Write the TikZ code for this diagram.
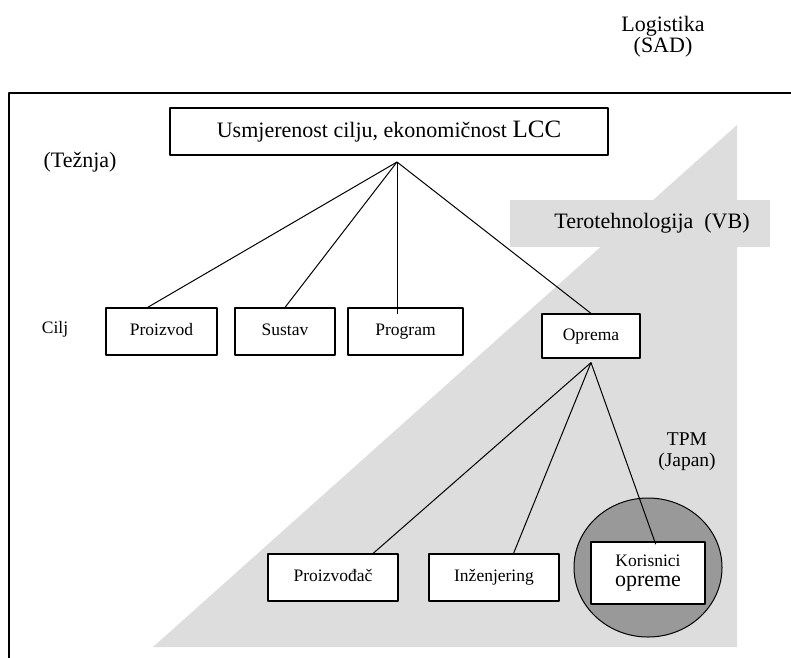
\documentclass[tikz,border=0pt]{standalone}
\usepackage{fontspec}
\setmainfont{Liberation Serif}
\definecolor{svijetlo}{RGB}{221,221,221}
\definecolor{tamno}{RGB}{153,153,153}
\tikzset{
  kutija/.style={draw,fill=white,line width=1.2pt,inner sep=0pt,text height=12pt,text depth=4pt,
    font=\fontsize{17.5}{19}\selectfont},
  veza/.style={line width=1pt},
  naslov/.style={font=\fontsize{22}{21}\selectfont,align=center},
}
\begin{document}
\begin{tikzpicture}[x=1pt,y=-1pt,line join=round]
\useasboundingbox (0,0) rectangle (791,657);
% siva podloga
\fill[svijetlo] (153,647)--(737,125)--(737,647)--cycle;
\fill[svijetlo] (510,200) rectangle (770,247);
% okvir
\draw[line width=1.3pt] (9,662)--(9,93)--(796,93);
% tekstovi
\node[naslov] (logistika) at (663,37) {Logistika\\(SAD)};
\node[naslov] (teznja) at (80,162) {(Težnja)};
\node[naslov] (tero) at (652,223) {Terotehnologija\ \ (VB)};
\node[font=\fontsize{17.5}{19}\selectfont] (cilj) at (55,329) {Cilj};
\node[font=\fontsize{19.5}{21}\selectfont,align=center] (tpm) at (687,452) {TPM\\(Japan)};
\draw[fill=tamno,line width=1pt] (648,567.5) ellipse [x radius=74pt,y radius=69.5pt];
% kutije
\node[draw,fill=white,line width=1.2pt,inner sep=0pt,minimum width=438pt,minimum height=47pt,
  font=\fontsize{22}{22}\selectfont] (usmj) at (389,131.5)
  {Usmjerenost cilju, ekonomičnost {\fontsize{25}{25}\selectfont LCC}};
\node[kutija,minimum width=111pt,minimum height=47pt] (proizvod) at (161.5,331.5) {Proizvod};
\node[kutija,minimum width=100pt,minimum height=47pt] (sustav) at (285,331.5) {Sustav};
\node[kutija,minimum width=115pt,minimum height=47pt] (program) at (405.5,331.5) {Program};
\node[kutija,minimum width=98pt,minimum height=44pt] (oprema) at (591,336) {Oprema};
\node[kutija,minimum width=130pt,minimum height=47pt] (proizvodjac) at (333,577.5) {Proizvođač};
\node[kutija,minimum width=130pt,minimum height=47pt] (inzenjering) at (494,577.5) {Inženjering};
\node[draw,fill=white,line width=1.2pt,inner sep=0pt,minimum width=114pt,minimum height=62pt,
  align=center,font=\fontsize{17.5}{20}\selectfont] (korisnici) at (648,573)
  {Korisnici\\{\fontsize{22}{22}\selectfont opreme}};
% veze
\coordinate (vrh) at (397,162);
\coordinate (opr) at ([yshift=-4pt]oprema.south);
\foreach \k in {proizvod.120,sustav.north,oprema.north}
  \draw[veza] (vrh)--(\k);
\draw[veza,shorten >=-7pt] (vrh)--(vrh |- program.north);
\foreach \k in {proizvodjac.31,inzenjering.51}
  \draw[veza] (opr)--(\k);
\draw[veza,shorten >=-3pt] (opr)--(korisnici.78);
\end{tikzpicture}
\end{document}
